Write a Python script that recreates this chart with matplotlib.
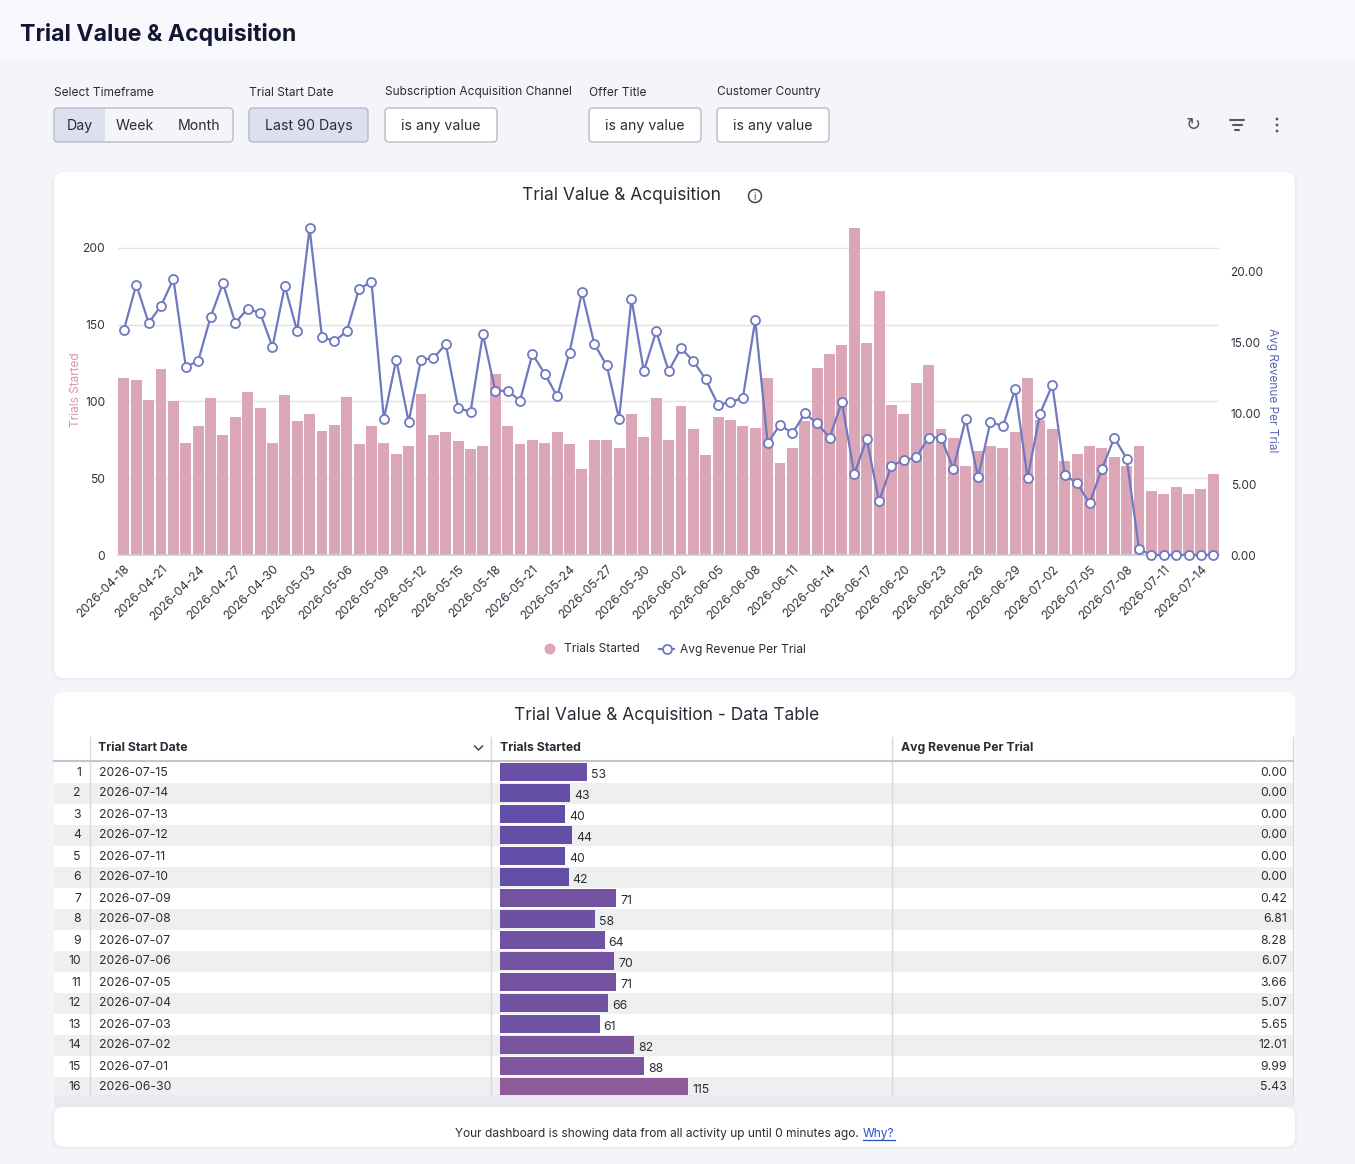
import matplotlib
matplotlib.use("Agg")
import matplotlib.pyplot as plt
from matplotlib.patches import FancyBboxPatch, Rectangle, Circle
from matplotlib.lines import Line2D
from matplotlib.colors import LinearSegmentedColormap, Normalize
import numpy as np
import pandas as pd

plt.rcParams["font.family"] = ["Inter", "DejaVu Sans"]

# ── data ──────────────────────────────────────────────────────────────
dates = pd.date_range("2026-04-18", "2026-07-15", freq="D").strftime("%Y-%m-%d").tolist()

trials_started = [
  115, 114, 101, 121, 100, 73, 84, 102, 78, 90, 106, 96, 73, 104, 87, 92,
  81, 85, 103, 72, 84, 73, 66, 71, 105, 78, 80, 74,
  69, 71, 118, 84, 72, 75, 73, 80, 72, 56, 75, 75, 70, 92, 77, 102, 75, 97,
  82, 65, 90, 88, 84, 83, 115, 60, 70, 87, 122, 131, 137,
  213, 138, 172, 98, 92, 112, 124, 82, 76, 58, 68, 71, 70, 80, 115, 88, 82,
  61, 66, 71, 70, 64, 58, 71, 42, 40, 44, 40, 43, 53,
]

avg_revenue = [
  15.9, 19.1, 16.4, 17.6, 19.5, 13.3, 13.7, 16.8, 19.2, 16.4, 17.4, 17.1,
  14.7, 19.0, 15.8, 23.1, 15.4, 15.1, 15.8, 18.8, 19.3, 9.6, 13.8, 9.4,
  13.8, 13.9, 14.9, 10.4,
  10.1, 15.6, 11.6, 11.6, 10.9, 14.2, 12.8, 11.2, 14.3, 18.6, 14.9, 13.4,
  9.6, 18.1, 13.0, 15.8, 13.0, 14.6, 13.7, 12.4, 10.6, 10.8, 11.1, 16.6,
  7.9, 9.2, 8.6, 10.0, 9.3, 8.3, 10.8,
  5.7, 8.2, 3.8, 6.3, 6.7, 6.9, 8.3, 8.3, 6.1, 9.6, 5.5, 9.4, 9.1, 11.7,
  5.43, 9.99, 12.01, 5.65, 5.07, 3.66, 6.07, 8.28, 6.81, 0.42,
  0.0, 0.0, 0.0, 0.0, 0.0, 0.0,
]

left_ticks = [0, 50, 100, 150, 200]
right_ticks = [0, 5, 10, 15, 20]
filter_labels = ["Select Timeframe", "Trial Start Date",
                 "Subscription Acquisition Channel", "Offer Title", "Customer Country"]
table_rows = 16

# ── colours ───────────────────────────────────────────────────────────
PAGE = "#f4f5fa"
HEADER = "#f8f9fc"
CARD = "#ffffff"
BAR = "#dba6b6"
LINE = "#6f79c0"
TEXT = "#2b2b36"
LAVENDER = "#dedfef"
BORDER = "#b9bac6"
ROW_ALT = "#eef0ef"

W, H = 1355, 1164
fig = plt.figure(figsize=(W / 100, H / 100), dpi=100)
fig.patch.set_facecolor(PAGE)

bg = fig.add_axes([0, 0, 1, 1])
bg.set_xlim(0, W)
bg.set_ylim(H, 0)
bg.axis("off")


def rbox(x, y, w, h, r, fc, ec="none", lw=1.0, z=1):
  p = FancyBboxPatch((x, y), w, h, boxstyle=f"round,pad=0,rounding_size={r}",
                     fc=fc, ec=ec, lw=lw, zorder=z)
  bg.add_patch(p)
  return p


def card(x, y, w, h):
  for i, a in enumerate([0.035, 0.03, 0.025]):
    rbox(x - 1 - i, y - i + 1, w + 2 + 2 * i, h + 2 * i, 11, "#8088a8", z=0.5).set_alpha(a)
  rbox(x, y, w, h, 10, CARD, z=1)


# header band
bg.add_patch(Rectangle((0, 0), W, 60, fc=HEADER, ec="none", zorder=0.2))
bg.text(20, 35, "Trial Value & Acquisition", fontsize=16.6, fontweight="bold",
        color="#161634", va="center", ha="left")

# filters
label_x = [54, 249, 385, 589, 717]
for lx, lab in zip(label_x, filter_labels):
  bg.text(lx, 92.5, lab, fontsize=8.6, color=TEXT, va="center", ha="left")

# segmented control
rbox(54, 108, 51, 34, 4, LAVENDER, z=1)
bg.add_patch(Rectangle((95, 108), 10, 34, fc=LAVENDER, ec="none", zorder=1))
rbox(54, 108, 179, 34, 4, "none", ec=BORDER, lw=1.0, z=2)
for cx, t in [(80, "Day"), (135, "Week"), (199, "Month")]:
  bg.text(cx, 126, t, fontsize=10.2, color=TEXT, ha="center", va="center", zorder=3)

rbox(249, 108, 119, 34, 4, LAVENDER, ec=BORDER, lw=1.0, z=2)
bg.text(308.5, 126, "Last 90 Days", fontsize=10.2, color=TEXT, ha="center", va="center", zorder=3)
for bx in [385, 589, 717]:
  rbox(bx, 108, 112, 34, 4, CARD, ec=BORDER, lw=1.0, z=2)
  bg.text(bx + 56, 126, "is any value", fontsize=10.2, color=TEXT, ha="center", va="center", zorder=3)

# toolbar icons
bg.text(1193, 125, "\u21bb", fontsize=13, color="#555560", ha="center", va="center",
        family="DejaVu Sans")
for dy, hw in [(-5, 7), (0, 4.5), (5, 1.8)]:
  bg.plot([1237 - hw, 1237 + hw], [125 + dy, 125 + dy], color="#555560", lw=1.5,
          solid_capstyle="round")
for dy in [-6, 0, 6]:
  bg.add_patch(Circle((1277, 125 + dy), 1.4, fc="#555560", ec="none"))

# ── chart card ────────────────────────────────────────────────────────
card(54, 172, 1241, 506)
bg.text(622, 195, "Trial Value & Acquisition", fontsize=12.5, color=TEXT, ha="center",
        va="center", zorder=3)
bg.add_patch(Circle((755, 196), 6.5, fc="none", ec="#444450", lw=1.1, zorder=3))
bg.text(755, 196.5, "i", fontsize=7.5, color="#444450", ha="center", va="center", zorder=3)

bg.text(76, 390, "Trials Started", fontsize=8.5, color="#d993ab", rotation=90,
        ha="center", va="center", zorder=3)
bg.text(1272, 390, "Avg Revenue Per Trial", fontsize=8.5, color="#5a64b8", rotation=270,
        ha="center", va="center", zorder=3)

# legend
bg.add_patch(Circle((550, 649), 5.5, fc=BAR, ec="none", zorder=3))
bg.text(564, 649.5, "Trials Started", fontsize=8.6, color=TEXT, ha="left", va="center", zorder=3)
bg.add_line(Line2D([659, 674], [649, 649], color=LINE, lw=1.5, zorder=3))
bg.add_line(Line2D([666.5], [649], marker="o", ms=6.5, mfc="white", mec=LINE, mew=1.3, zorder=4))
bg.text(680, 649.5, "Avg Revenue Per Trial", fontsize=8.6, color=TEXT, ha="left", va="center", zorder=3)

x = np.arange(len(dates))
ax = fig.add_axes([117.7 / W, 1 - 555 / H, (1219.5 - 117.7) / W, 327 / H])
ax.set_zorder(2)
ax.patch.set_alpha(0)
ax.bar(x, trials_started, width=0.88, color=BAR, zorder=2)
ax.set_xlim(-0.5, len(dates) - 0.5)
ax.set_ylim(0, max(trials_started))
ax.set_yticks(left_ticks)
ax.set_yticklabels([str(t) for t in left_ticks])
ax.yaxis.grid(True, color="#e2e2e6", lw=1.0, zorder=0)
ax.set_axisbelow(True)
ax.set_xticks(x[::3])
ax.set_xticklabels(dates[::3], rotation=45, ha="right", va="top", rotation_mode="anchor")
ax.tick_params(axis="both", length=0, labelsize=8.7, labelcolor="#333340")
ax.tick_params(axis="x", pad=6)
ax.tick_params(axis="y", pad=9)
for s in ["top", "right", "left"]:
  ax.spines[s].set_visible(False)
ax.spines["bottom"].set_color("#c8cae0")
ax.spines["bottom"].set_linewidth(1.2)

ax2 = ax.twinx()
ax2.plot(x, avg_revenue, color=LINE, lw=1.6, marker="o", ms=6.5, mfc="white",
         mec=LINE, mew=1.3, clip_on=False, zorder=3)
ax2.set_ylim(0, max(avg_revenue))
ax2.set_yticks(right_ticks)
ax2.set_yticklabels([f"{t:.2f}" for t in right_ticks])
ax2.tick_params(axis="y", length=0, labelsize=8.5, labelcolor="#333340", pad=8)
for s in ax2.spines.values():
  s.set_visible(False)

# ── data table card ───────────────────────────────────────────────────
rbox(54, 692, 1241, 60, 10, CARD, z=1)
bg.add_patch(Rectangle((54, 720), 1241, 375, fc=CARD, ec="none", zorder=1))
bg.text(667, 715, "Trial Value & Acquisition - Data Table", fontsize=12.5, color=TEXT,
        ha="center", va="center", zorder=3)

row_top0, row_h = 762, 21
sel = list(range(len(dates) - 1, len(dates) - 1 - table_rows, -1))
tbl_vals = [trials_started[i] for i in sel]
cmap = LinearSegmentedColormap.from_list("tbl", ["#614ea7", "#8d5b97"])
norm = Normalize(vmin=min(tbl_vals), vmax=max(tbl_vals))
px_per_trial = 1.635

for r, i in enumerate(sel):
  top = row_top0 + r * row_h
  if r % 2 == 1:
    bg.add_patch(Rectangle((54, top), 1239, row_h, fc=ROW_ALT, ec="none", zorder=1.5))
  cy = top + row_h / 2
  bg.text(81, cy, str(r + 1), fontsize=8.8, color=TEXT, ha="right", va="center", zorder=3)
  bg.text(99, cy, dates[i], fontsize=8.8, color=TEXT, ha="left", va="center", zorder=3)
  w = trials_started[i] * px_per_trial
  bg.add_patch(Rectangle((500, top + 0.5), w, 18.5, fc=cmap(norm(trials_started[i])),
                         ec="none", zorder=2))
  bg.text(500 + w + 4, cy + 2.5, str(trials_started[i]), fontsize=8.8, color=TEXT,
          ha="left", va="center", zorder=3)
  bg.text(1287, cy, f"{avg_revenue[i]:.2f}", fontsize=8.8, color=TEXT, ha="right",
          va="center", zorder=3)

# header row
bg.text(98, 748, "Trial Start Date", fontsize=8.8, fontweight="bold", color=TEXT,
        ha="left", va="center", zorder=3)
bg.plot([474.5, 478.5, 482.5], [746, 750, 746], color="#444450", lw=1.1, zorder=3)
bg.text(500, 748, "Trials Started", fontsize=8.8, fontweight="bold", color=TEXT,
        ha="left", va="center", zorder=3)
bg.text(901, 748, "Avg Revenue Per Trial", fontsize=8.8, fontweight="bold", color=TEXT,
        ha="left", va="center", zorder=3)
bg.plot([54, 1293], [760.5, 760.5], color="#c4c6cc", lw=1.5, zorder=3)
for vx in [90, 491, 892, 1293]:
  bg.plot([vx, vx], [737, 1095], color="#d8d8dc", lw=1.0, zorder=2.5)
bg.add_patch(Rectangle((54, 1095), 1241, 12, fc="#e9eaf0", ec="none", zorder=2))

# ── footer ────────────────────────────────────────────────────────────
card(54, 1107, 1241, 40)
main = bg.text(455, 1137.5, "Your dashboard is showing data from all activity up until 0 minutes ago.",
               fontsize=8.6, color=TEXT, ha="left", va="baseline", zorder=3)
why = bg.annotate("Why?", xy=(1, 0), xycoords=main, xytext=(3, 0), textcoords="offset points",
                  fontsize=8.6, color="#2a4fc0", ha="left", va="bottom", zorder=3)
fig.canvas.draw()
bb = why.get_window_extent()
inv = bg.transData.inverted()
(x0, _), (x1, _) = inv.transform([[bb.x0, bb.y0], [bb.x1, bb.y0]])
bg.plot([x0, x1], [1139.5, 1139.5], color="#2a4fc0", lw=0.9, zorder=3)

fig.savefig("out.png", dpi=100, facecolor=fig.get_facecolor())
